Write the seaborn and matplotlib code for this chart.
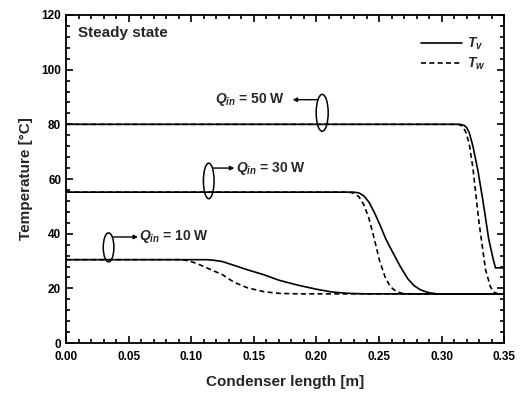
import matplotlib
matplotlib.use('Agg')
import matplotlib.pyplot as plt
from matplotlib.patches import Ellipse
from matplotlib.lines import Line2D
from matplotlib.ticker import MultipleLocator, FormatStrFormatter
import pandas as pd
import seaborn as sns

# Values
# Q_in = 10 W
x10_v = [0.0, 0.112, 0.118, 0.125, 0.135, 0.145, 0.158, 0.17, 0.185, 0.2, 0.212, 0.225, 0.24, 0.35]
t10_v = [30.5, 30.5, 30.3, 29.8, 28.3, 26.8, 25.0, 23.0, 21.2, 19.7, 18.7, 18.2, 18.0, 18.0]
x10_w = [0.0, 0.092, 0.098, 0.105, 0.115, 0.125, 0.134, 0.145, 0.158, 0.17, 0.185, 0.35]
t10_w = [30.5, 30.5, 30.1, 29.0, 27.0, 25.0, 22.3, 20.2, 18.8, 18.2, 18.0, 18.0]
# Q_in = 30 W
x30_v = [0.0, 0.230, 0.234, 0.238, 0.242, 0.246, 0.25, 0.2555, 0.26, 0.267, 0.273,
         0.278, 0.283, 0.289, 0.296, 0.35]
t30_v = [55.2, 55.2, 54.9, 53.8, 51.5, 48.0, 44.0, 38.0, 34.0, 28.0, 23.5,
         21.0, 19.5, 18.5, 18.0, 18.0]
x30_w = [0.0, 0.226, 0.230, 0.234, 0.238, 0.242, 0.246, 0.2505, 0.255, 0.259, 0.264, 0.27, 0.35]
t30_w = [55.2, 55.2, 54.8, 53.5, 50.5, 45.5, 38.5, 30.0, 24.0, 20.6, 18.8, 18.0, 18.0]
# Q_in = 50 W
x50_v = [0.0, 0.315, 0.318, 0.320, 0.322, 0.325, 0.329, 0.333, 0.3376, 0.341, 0.343, 0.35]
t50_v = [80.0, 80.0, 79.6, 78.8, 77.0, 72.0, 63.0, 52.0, 38.0, 31.0, 27.5, 27.5]
x50_w = [0.0, 0.313, 0.316, 0.319, 0.322, 0.325, 0.3296, 0.335, 0.339, 0.342, 0.345, 0.35]
t50_w = [80.0, 80.0, 79.5, 77.5, 73.0, 64.0, 45.0, 27.0, 20.5, 18.6, 18.0, 18.0]

frames = []
for q, kind, xs, ts in [(10, 'Tv', x10_v, t10_v), (10, 'Tw', x10_w, t10_w),
                        (30, 'Tv', x30_v, t30_v), (30, 'Tw', x30_w, t30_w),
                        (50, 'Tv', x50_v, t50_v), (50, 'Tw', x50_w, t50_w)]:
    frames.append(pd.DataFrame({'x': xs, 'T': ts, 'Q': q, 'kind': kind}))
df = pd.concat(frames, ignore_index=True)
df['series'] = df['Q'].astype(str) + df['kind']

sns.set_style('ticks')
plt.rcParams['font.family'] = ['Liberation Sans', 'DejaVu Sans']
plt.rcParams['mathtext.fontset'] = 'custom'
plt.rcParams['mathtext.it'] = 'Liberation Sans:italic:bold'
plt.rcParams['mathtext.rm'] = 'Liberation Sans:bold'

fig = plt.figure(figsize=(5.28, 3.93), dpi=100)
ax = fig.add_axes([0.125, 0.127, 0.83, 0.835])

sns.lineplot(data=df, x='x', y='T', units='series', style='kind', estimator=None,
             sort=False, color='black', linewidth=1.2,
             dashes={'Tv': '', 'Tw': (3, 2)}, legend=False, ax=ax)

ax.set_xlim(0, 0.35)
ax.set_ylim(0, 120)
ax.xaxis.set_major_locator(MultipleLocator(0.05))
ax.xaxis.set_minor_locator(MultipleLocator(0.01))
ax.yaxis.set_major_locator(MultipleLocator(20))
ax.yaxis.set_minor_locator(MultipleLocator(4))
ax.xaxis.set_major_formatter(FormatStrFormatter('%.2f'))
ax.tick_params(which='both', direction='in', top=True, right=True, width=1.2,
               labelsize=8.5, colors='black')
ax.tick_params(which='major', length=5)
ax.tick_params(which='minor', length=3)
ax.tick_params(axis='x', pad=6)
for lab in ax.get_xticklabels() + ax.get_yticklabels():
    lab.set_fontweight('bold')
for sp in ax.spines.values():
    sp.set_linewidth(1.3)
    sp.set_color('black')

ax.set_xlabel('Condenser length [m]', fontsize=11, fontweight='bold', labelpad=8)
ax.set_ylabel('Temperature [°C]', fontsize=11, fontweight='bold', labelpad=6)

ax.text(0.0095, 113.4, 'Steady state', fontsize=11, fontweight='bold', va='center')

# legend
handles = [Line2D([], [], color='black', lw=1.2),
           Line2D([], [], color='black', lw=1.2, dashes=(3, 2))]
ax.legend(handles, ['$T_v$', '$T_w$'], loc='upper right', frameon=False,
          handlelength=3.0, fontsize=10, bbox_to_anchor=(0.985, 0.975),
          labelspacing=0.25, handletextpad=0.3)

# ellipses and labels
ell_kw = dict(facecolor='none', edgecolor='black', lw=1.1)
ax.add_patch(Ellipse((0.2046, 84.2), 0.0096, 13.5, **ell_kw))
ax.add_patch(Ellipse((0.114, 59.3), 0.0085, 13.0, **ell_kw))
ax.add_patch(Ellipse((0.034, 35.0), 0.0085, 10.6, **ell_kw))

arr = dict(arrowstyle='-|>', color='black', lw=1.0, mutation_scale=6, shrinkA=0, shrinkB=0)
ax.annotate('', xy=(0.181, 89.0), xytext=(0.2005, 89.0), arrowprops=arr)
ax.text(0.119, 89.0, '$Q_{in}$ = 50 W', fontsize=10, va='center', fontweight='bold')
ax.annotate('', xy=(0.1345, 64.0), xytext=(0.1175, 64.0), arrowprops=arr)
ax.text(0.1355, 64.0, '$Q_{in}$ = 30 W', fontsize=10, va='center', fontweight='bold')
ax.annotate('', xy=(0.0575, 38.8), xytext=(0.0375, 38.8), arrowprops=arr)
ax.text(0.0585, 38.8, '$Q_{in}$ = 10 W', fontsize=10, va='center', fontweight='bold')

fig.savefig('out.png', dpi=100)
